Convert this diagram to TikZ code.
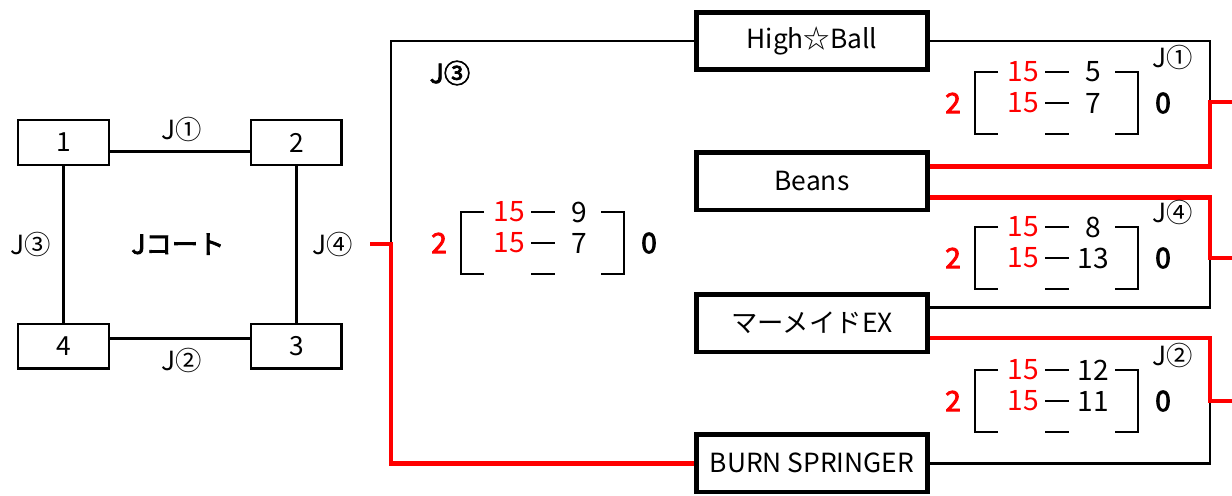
\documentclass[tikz,border=0pt]{standalone}
\usepackage{fontspec}
\setmainfont{Noto Sans CJK JP}
\newfontfamily\heavy[FakeBold=3]{Noto Sans CJK JP}
\usetikzlibrary{positioning}

\tikzset{
  court/.style={draw, line width=1.4pt, minimum width=1.81cm, minimum height=0.89cm, inner sep=0pt, font=\fontsize{15}{15}\selectfont},
  team/.style={draw, line width=2.6pt, minimum width=4.61cm, minimum height=1.15cm, inner sep=0pt, font=\fontsize{15}{15}\selectfont},
  tag/.style={inner sep=0pt, font=\fontsize{15}{15}\selectfont},
  score/.style={inner sep=0pt, font=\fontsize{16}{16}\selectfont},
  total/.style={inner sep=0pt, font=\fontsize{16}{16}\heavy},
  link/.style={line width=1.6pt},
  win/.style={line width=2.8pt, red},
}

\begin{document}
\begin{tikzpicture}[x=0.02cm, y=-0.02cm]
\useasboundingbox (0,0) rectangle (1232,495);

% court plan
\node[court] (c1) at (63.5,142.5) {1};
\node[court, right=2.8cm of c1] (c2) {2};
\node[court, below=3.14cm of c1] (c4) {4};
\node[court, below=3.14cm of c2] (c3) {3};
\draw[link] ([yshift=-5pt]c1.east) -- ([yshift=-5pt]c2.west);
\draw[link] ([yshift=4.5pt]c4.east) -- ([yshift=4.5pt]c3.west);
\draw[link] (c1.south) -- (c4.north);
\draw[link] (c2.south) -- (c3.north);
\node[tag] (lj1) at (182,129) {J①};
\node[tag] (lj2) at (182,360) {J②};
\node[tag] (lj3) at (31,244) {J③};
\node[tag] (lj4) at (333,244) {J④};
\node[tag, font=\fontsize{15}{15}\heavy] (court) at (178,244) {Jコート};

% teams
\node[team] (high) at (812,41) {High☆Ball};
\node[team, below=1.56cm of high] (beans) {Beans};
\node[team, below=1.6cm of beans] (mermaid) {マーメイドEX};
\node[team, below=1.56cm of mermaid] (burn) {BURN SPRINGER};

\coordinate (j3) at (391,244);
\coordinate (w3) at (370,244);
\coordinate (j1) at (1210,102);
\coordinate (j4) at (1210,258);
\coordinate (j2) at (1210,401);
\coordinate (o1) at (1240,102);
\coordinate (o4) at (1240,258);
\coordinate (o2) at (1240,401);

% losers
\draw[link] (high.west) -| (j3);
\draw[link] (high.east) -| (j1);
\draw[link] ([yshift=9pt]mermaid.east) -| (j4);
\draw[link] (burn.east) -| (j2);
% winners
\draw[win] (burn.west) -| (j3) -- (w3);
\draw[win] ([yshift=8.5pt]beans.east) -| (j1) -- (o1);
\draw[win] ([yshift=-9.6pt]beans.east) -| (j4) -- (o4);
\draw[win] ([yshift=-8.5pt]mermaid.east) -| (j2) -- (o2);

% match scores
\foreach \bx/\by/\na/\nb/\k in {461/212/9/7/c, 975/72/5/7/a, 975/227/8/13/d, 975/370/12/11/b} {
  \draw[link] (\bx+23,\by) -- (\bx,\by) -- (\bx,\by+62) -- (\bx+23,\by+62);
  \draw[link] (\bx+140,\by) -- (\bx+163,\by) -- (\bx+163,\by+62) -- (\bx+140,\by+62);
  \foreach \r in {0,31,62}
    \draw[link] (\bx+70,\by+\r) -- (\bx+94,\by+\r);
  \node[score, red] (p\k1) at (\bx+48,\by) {15};
  \node[score, red] (p\k2) at (\bx+48,\by+31) {15};
  \node[score] (q\k1) at (\bx+118,\by) {\na};
  \node[score] (q\k2) at (\bx+118,\by+31) {\nb};
  \node[total, red] (s\k) at (\bx-22,\by+31) {2};
  \node[total] (t\k) at (\bx+188,\by+31) {0};
}
\node[tag, font=\fontsize{15}{15}\heavy] (mc) at (450,73) {J③};
\node[tag] (ma) at (1173,57) {J①};
\node[tag] (md) at (1173,212) {J④};
\node[tag] (mb) at (1173,355) {J②};
\end{tikzpicture}
\end{document}
